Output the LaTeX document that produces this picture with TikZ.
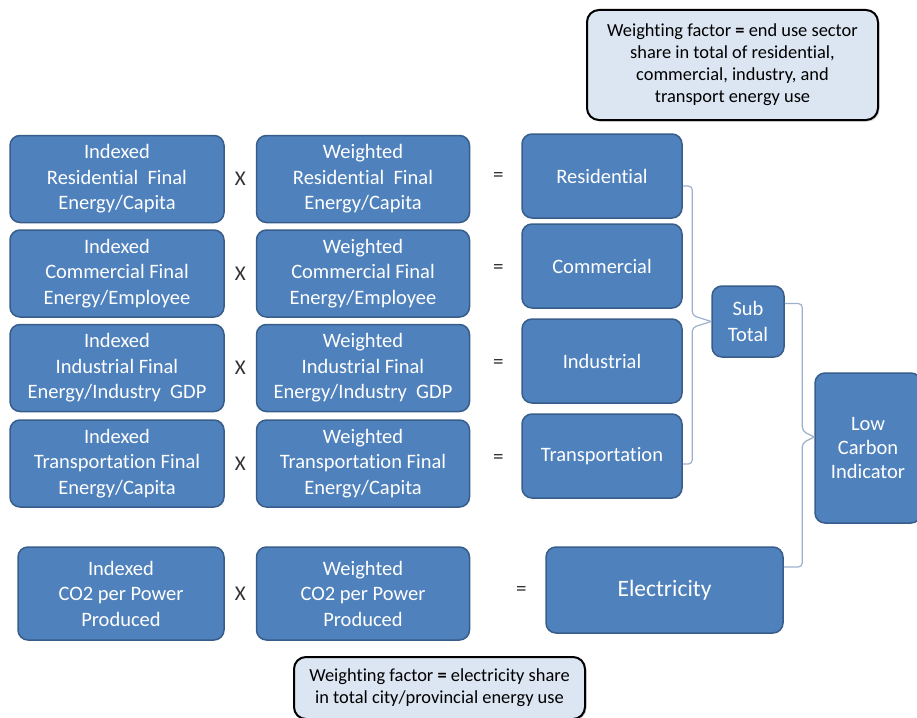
\documentclass[tikz,border=0pt]{standalone}
\usepackage{fontspec}
\setmainfont{Carlito}[Ligatures=NoCommon]
\usepackage{xcolor}
\usepackage{tikz}
\usetikzlibrary{positioning,calc,shadows}

\definecolor{boxblue}{HTML}{4F81BD}
\definecolor{boxline}{HTML}{385D8A}
\definecolor{notefill}{HTML}{DCE6F2}
\definecolor{bracecol}{HTML}{9BB1CB}

\begin{document}
\begin{tikzpicture}[x=1pt, y=-1pt,
    ind/.style={rectangle, draw=boxline, line width=1.5pt, fill=boxblue, text=white, rounded corners=10pt, minimum width=214pt, minimum height=87pt, inner sep=0pt, align=center, font=\fontsize{20.5}{25.5}\selectfont},
    wgt/.style={ind, minimum width=213pt},
    sector/.style={ind, minimum width=160pt, minimum height=84pt},
    note/.style={rectangle, draw=black, line width=2pt, fill=notefill, rounded corners=12pt, align=center, inner sep=0pt, font=\fontsize{18.4}{22}\selectfont, drop shadow={opacity=0.35, shadow xshift=1.5pt, shadow yshift=-1.5pt}},
    op/.style={font=\fontsize{21}{21}\selectfont, text=black!80},
    brace/.style={draw=bracecol, line width=1.2pt, rounded corners=4pt}
]
\useasboundingbox (0,0) rectangle (917,717);

% Weighting note (sectors)
\node [note, minimum width=291pt, minimum height=110pt] (wnote) at (732.5,65) {Weighting factor \textbf{=} end use sector\\share in total of residential,\\commercial, industry, and\\transport energy use};

% Residential row
\node [ind] (ires) at (117,179) {Indexed\\Residential\ \ Final\\Energy/Capita};
\node [wgt, right=31pt of ires] (wres) {Weighted\\Residential\ \ Final\\Energy/Capita};
\node [sector] (resi) at (602,176) {Residential};

% Commercial row
\node [ind] (icom) at (117,273.5) {Indexed\\Commercial Final\\Energy/Employee};
\node [wgt, right=31pt of icom] (wcom) {Weighted\\Commercial Final\\Energy/Employee};
\node [sector] (comm) at (602,266) {Commercial};

% Industrial row
\node [ind] (iind) at (117,368) {Indexed\\Industrial Final\\Energy/Industry\ \ GDP};
\node [wgt, right=31pt of iind] (wind) {Weighted\\Industrial Final\\Energy/Industry\ \ GDP};
\node [sector] (indu) at (602,361) {Industrial};

% Transportation row
\node [ind] (itra) at (117,463.5) {Indexed\\Transportation Final\\Energy/Capita};
\node [wgt, right=31pt of itra] (wtra) {Weighted\\Transportation Final\\Energy/Capita};
\node [sector] (tran) at (602,456) {Transportation};

% Electricity row
\node [ind, minimum width=206pt, minimum height=93pt] (ico2) at (121,593.5) {Indexed\\CO2 per Power\\Produced};
\node [wgt, minimum height=93pt, right=31pt of ico2] (wco2) {Weighted\\CO2 per Power\\Produced};
\node [ind, minimum width=237pt, minimum height=86pt, font=\fontsize{23.5}{28}\selectfont] (elec) at (664.5,590) {Electricity};

% Operators
\foreach \a/\b in {ires/wres, icom/wcom, iind/wind, itra/wtra, ico2/wco2}
    \node [op] (x\a) at ($(\a.east)!0.5!(\b.west)$) {X};
\foreach \a/\b in {wres/resi, wcom/comm, wind/indu, wtra/tran}
    \node [op] (eq\a) at ($(\a.east)!0.55!(\b.west)$) {=};
\node [op] (eqwco2) at ($(wco2.east)!0.68!(elec.west)$) {=};

% Totals
\node [ind, minimum width=72pt, minimum height=71pt] (subt) at (748,321.5) {Sub\\Total};
\node [ind, minimum width=106pt, minimum height=150pt, font=\fontsize{20.5}{24}\selectfont] (lowc) at (868,448) {Low\\Carbon\\Indicator};

% Weighting note (electricity)
\node [note, minimum width=291pt, minimum height=62pt] (enote) at (439.5,688) {Weighting factor \textbf{=} electricity share\\in total city/provincial energy use};

% Braces
\coordinate (bt) at ([xshift=-19pt,yshift=6pt]subt.west);
\coordinate (bb) at ([xshift=-19pt,yshift=-6pt]subt.west);
\draw [brace] ([yshift=-10pt]resi.east) -| (bt) -- (subt.west);
\draw [brace] (subt.west) -- (bb) |- ([yshift=-8pt]tran.east);

\coordinate (ct) at ([xshift=-12pt,yshift=17pt]lowc.west);
\coordinate (cb) at ([xshift=-12pt,yshift=5pt]lowc.west);
\draw [brace] ([yshift=18pt]subt.east) -| (ct) -- ([yshift=11pt]lowc.west);
\draw [brace] ([yshift=11pt]lowc.west) -- (cb) |- ([yshift=23pt]elec.east);

\end{tikzpicture}
\end{document}
